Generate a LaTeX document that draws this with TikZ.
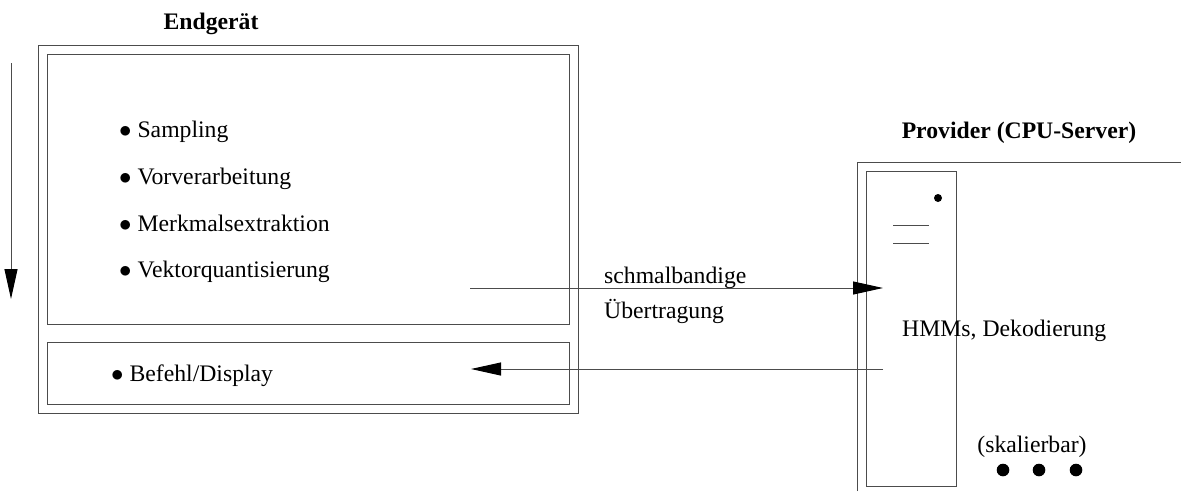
\documentclass[tikz,border=0pt]{standalone}
\usepackage{fontspec}
\setmainfont{Liberation Serif}
\usetikzlibrary{arrows.meta}

\newcommand{\bodysize}{\fontsize{23.7}{28}\selectfont}

\tikzset{
  frame/.style={draw=black!70, line width=1pt},
  box/.style={frame, rectangle, anchor=north west, inner sep=0pt, outer sep=0pt},
  lbl/.style={inner sep=0pt, anchor=base west},
  heading/.style={inner sep=0pt, anchor=base, font=\bodysize\bfseries},
  flow/.style={draw=black!70, line width=1pt,
    -{Triangle[length=30pt, width=13pt, color=black]}},
  blob/.style={fill=black, draw=none},
}

\begin{document}
\begin{tikzpicture}[x=1pt, y=-1pt, font=\bodysize]
  \useasboundingbox (0,0) rectangle (1181,491);

  % terminal device
  \node[heading] (devtitle) at (211,29) {Endgerät};
  \node[box, minimum width=540pt, minimum height=368pt] (device) at (38,45) {};
  \node[box, minimum width=522pt, minimum height=270pt] (proc) at (47,54) {};
  \node[box, minimum width=522pt, minimum height=62pt] (ui) at (47,342) {};

  \node[lbl] (s1) at (119,137) {$\bullet$ Sampling};
  \node[lbl] (s2) at (119,184) {$\bullet$ Vorverarbeitung};
  \node[lbl] (s3) at (119,231) {$\bullet$ Merkmalsextraktion};
  \node[lbl] (s4) at (119,277) {$\bullet$ Vektorquantisierung};
  \node[lbl] (s5) at (111,381) {$\bullet$ Befehl/Display};

  % processing order
  \coordinate (ordtop) at (11,63);
  \coordinate (ordbot) at (11,299);
  \draw[flow] (ordtop) -- (ordbot);

  % provider
  \node[heading] (provtitle) at (1019,138) {Provider (CPU-Server)};
  \coordinate (pvbot) at (857,491);
  \coordinate (pvcorner) at (857,162);
  \coordinate (pvright) at (1181,162);
  \draw[frame] (pvbot) -- (pvcorner) -- (pvright);
  \node[box, minimum width=90pt, minimum height=315pt] (server) at (866,171) {};
  \fill[blob] (938,198) circle (4pt);
  \coordinate (slot1a) at (893,225);
  \coordinate (slot1b) at (929,225);
  \coordinate (slot2a) at (893,243);
  \coordinate (slot2b) at (929,243);
  \draw[frame] (slot1a) -- (slot1b);
  \draw[frame] (slot2a) -- (slot2b);

  \node[lbl] (hmm) at (902,336) {HMMs, Dekodierung};
  \node[inner sep=0pt, anchor=base] (scal) at (1032,452) {(skalierbar)};
  \fill[blob] (1003,470) circle (6.3pt);
  \fill[blob] (1039,470) circle (6.3pt);
  \fill[blob] (1076,470) circle (6.3pt);

  % transmission
  \coordinate (uplinkA) at (470,288);
  \coordinate (uplinkB) at (883,288);
  \draw[flow] (uplinkA) -- (uplinkB);
  \node[lbl] (tx1) at (604,283) {schmalbandige};
  \node[lbl] (tx2) at (604,318) {Übertragung};

  \coordinate (downA) at (883,369);
  \coordinate (downB) at (471,369);
  \draw[flow] (downA) -- (downB);
\end{tikzpicture}
\end{document}
